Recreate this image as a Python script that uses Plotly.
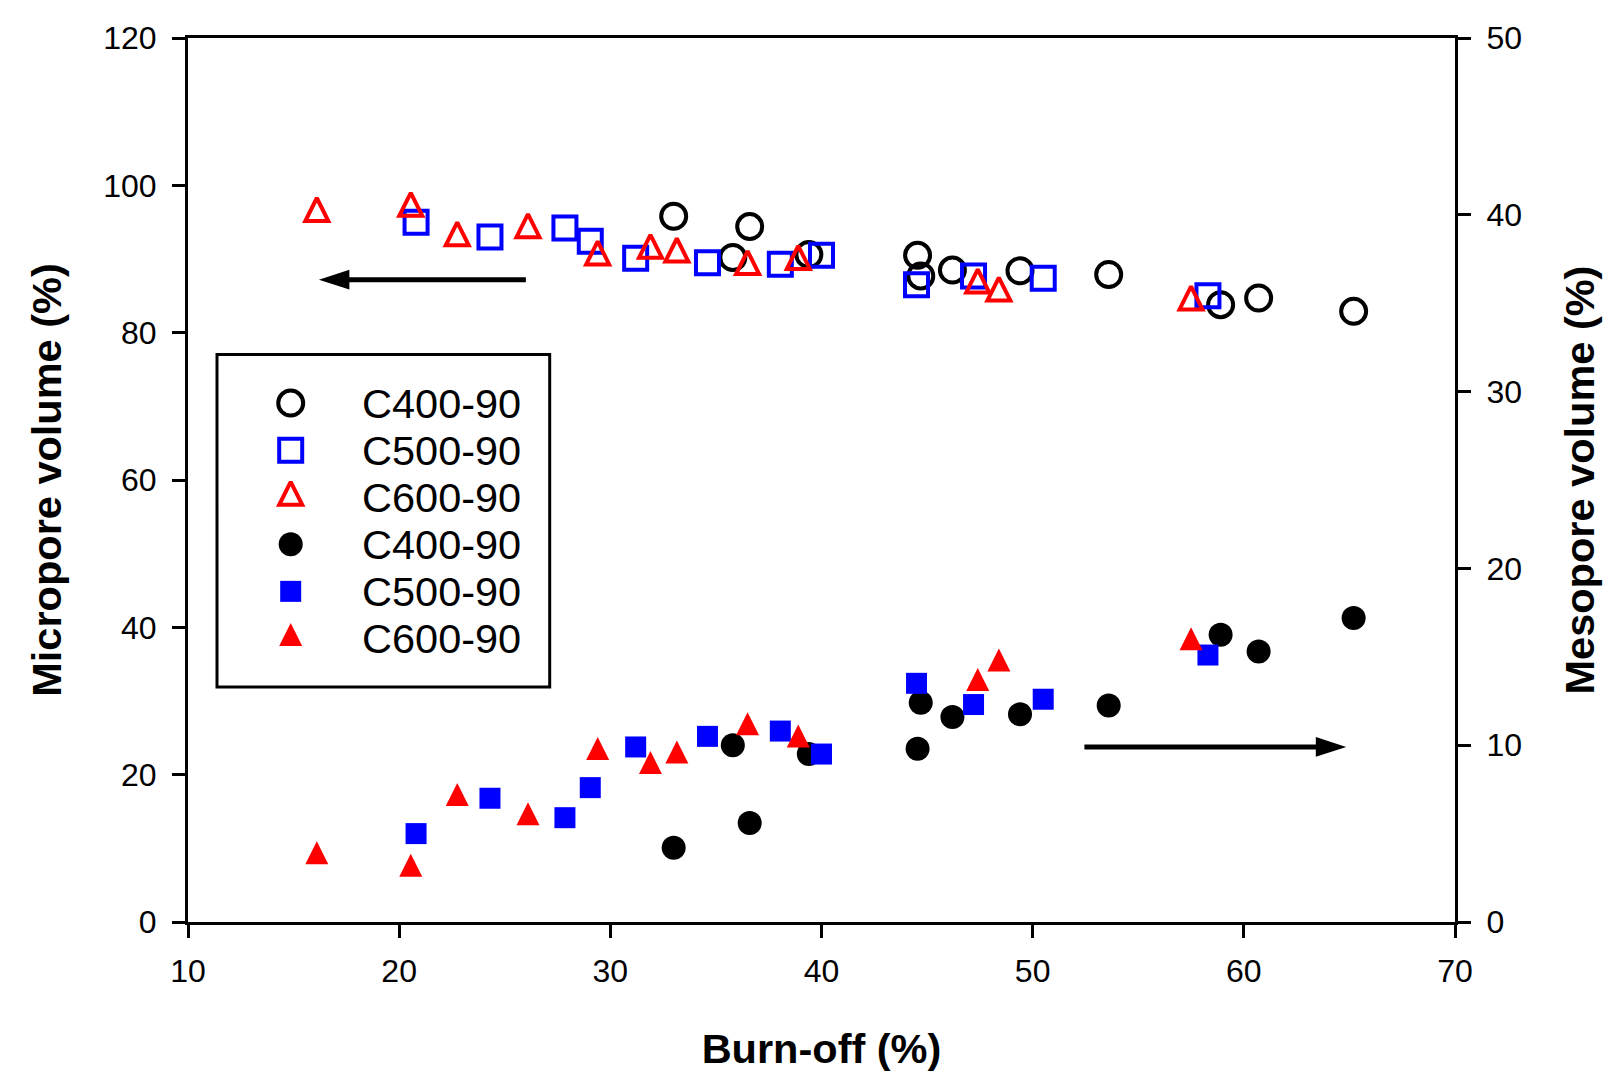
import plotly.graph_objects as go

FONT = "Arial, 'Liberation Sans', sans-serif"
NEGRO = '#000000'
AZUL = '#0000FF'
ROJO = '#FF0000'

# Datos
burnoff_c400 = [33.0, 35.8, 36.6, 39.4, 44.55, 44.7, 46.2, 49.4, 53.6, 58.9, 60.7, 65.2]
micro_c400 = [95.8, 90.2, 94.4, 90.6, 90.5, 87.7, 88.5, 88.4, 87.9, 83.8, 84.7, 82.9]
meso_c400 = [4.2, 10.0, 5.6, 9.5, 9.8, 12.4, 11.6, 11.75, 12.25, 16.25, 15.3, 17.2]

burnoff_c500 = [20.8, 24.3, 27.85, 29.05, 31.2, 34.6, 38.05, 40.0, 44.5, 47.2, 50.5, 58.3]
micro_c500 = [95.0, 93.0, 94.2, 92.4, 90.1, 89.5, 89.3, 90.5, 86.5, 87.7, 87.4, 85.0]
meso_c500 = [5.0, 7.0, 5.9, 7.6, 9.9, 10.5, 10.8, 9.5, 13.5, 12.3, 12.6, 15.1]

burnoff_c600 = [16.1, 20.55, 22.75, 26.1, 29.4, 31.9, 33.15, 36.5, 38.9, 47.4, 48.4, 57.5]
micro_c600 = [96.2, 96.9, 92.9, 94.0, 90.3, 91.2, 90.7, 89.0, 89.7, 86.5, 85.4, 84.2]
meso_c600 = [3.7, 3.0, 7.0, 5.9, 9.6, 8.8, 9.4, 11.0, 10.3, 13.5, 14.6, 15.8]

series_names = ['C400-90', 'C500-90', 'C600-90', 'C400-90', 'C500-90', 'C600-90']

# flechas: (cola, punta) en x, altura en su eje
flecha_micro_x = [26.0, 16.2]
flecha_micro_y = 87.2
flecha_meso_x = [52.45, 64.85]
flecha_meso_y = 9.9

# estilos de marcador
TRI = 23
LW = 4
estilos = [
    dict(symbol='circle-open', color=NEGRO, size=25, line=dict(width=LW, color=NEGRO)),
    dict(symbol='square-open', color=AZUL, size=23, line=dict(width=LW, color=AZUL)),
    dict(symbol='arrow-down-open', color=ROJO, size=TRI, angle=180, standoff=TRI * 2 / 3,
         line=dict(width=LW, color=ROJO)),
    dict(symbol='circle', color=NEGRO, size=24, line=dict(width=0)),
    dict(symbol='square', color=AZUL, size=21, line=dict(width=0)),
    dict(symbol='arrow-down', color=ROJO, size=TRI, angle=180, standoff=TRI * 2 / 3,
         line=dict(width=0)),
]

fig = go.Figure()

datos = [
    (burnoff_c400, micro_c400, 'y'),
    (burnoff_c500, micro_c500, 'y'),
    (burnoff_c600, micro_c600, 'y'),
    (burnoff_c400, meso_c400, 'y2'),
    (burnoff_c500, meso_c500, 'y2'),
    (burnoff_c600, meso_c600, 'y2'),
]

for (x, y, eje), estilo, nombre in zip(datos, estilos, series_names):
    fig.add_trace(go.Scatter(
        x=x, y=y, mode='markers', name=nombre,
        marker=estilo, yaxis=eje, xaxis='x', showlegend=False, cliponaxis=False
    ))

# Flechas: linea + punta
fig.add_shape(type='line', xref='x', yref='y',
              x0=flecha_micro_x[0], x1=flecha_micro_x[1] + 1.0,
              y0=flecha_micro_y, y1=flecha_micro_y,
              line=dict(color=NEGRO, width=5))
fig.add_shape(type='line', xref='x', yref='y2',
              x0=flecha_meso_x[0], x1=flecha_meso_x[1] - 1.0,
              y0=flecha_meso_y, y1=flecha_meso_y,
              line=dict(color=NEGRO, width=5))
fig.add_trace(go.Scatter(x=[flecha_micro_x[1]], y=[flecha_micro_y], mode='markers',
                         marker=dict(symbol='arrow', size=32, angle=-90, color=NEGRO, line=dict(width=0)),
                         yaxis='y', showlegend=False, hoverinfo='skip'))
fig.add_trace(go.Scatter(x=[flecha_meso_x[1]], y=[flecha_meso_y], mode='markers',
                         marker=dict(symbol='arrow', size=32, angle=90, color=NEGRO, line=dict(width=0)),
                         yaxis='y2', showlegend=False, hoverinfo='skip'))

# Leyenda dibujada en un eje auxiliar (unidades en px dentro del recuadro)
LEG_W, LEG_H = 332.7, 333.4
PAD = 10
fila0, paso = 48.7, 47.2
for i, (estilo, nombre) in enumerate(zip(estilos, series_names)):
    yy = fila0 + paso * i
    fig.add_trace(go.Scatter(x=[73.7], y=[yy], mode='markers', marker=estilo,
                             xaxis='x3', yaxis='y3', showlegend=False, hoverinfo='skip'))
    fig.add_annotation(x=143, y=yy, xref='x3', yref='y3', text=nombre, showarrow=False,
                       xanchor='left', yanchor='middle',
                       font=dict(family=FONT, size=41.5, color=NEGRO))
fig.add_shape(type='rect', xref='x3', yref='y3', x0=0, x1=LEG_W, y0=0, y1=LEG_H,
              line=dict(color=NEGRO, width=3))

eje_comun = dict(
    showline=True, linecolor=NEGRO, linewidth=3,
    ticks='outside', ticklen=13, tickwidth=3, tickcolor=NEGRO,
    showgrid=False, zeroline=False,
    tickfont=dict(family=FONT, size=32, color=NEGRO),
)
fuente_titulo = dict(family=FONT, size=41.5, color=NEGRO, weight='bold')

fig.update_layout(
    width=1622, height=1092,
    margin=dict(l=180, r=175, t=28, b=178),
    paper_bgcolor='white', plot_bgcolor='white',
    showlegend=False,
    xaxis=dict(range=[10, 70], tick0=10, dtick=10, mirror=True, ticklabelstandoff=6,
               title=dict(text='Burn-off (%)', standoff=46, font=fuente_titulo),
               **eje_comun),
    yaxis=dict(range=[0, 120], tick0=0, dtick=20, ticklabelstandoff=9,
               title=dict(text='Micropore volume (%)', standoff=29, font=fuente_titulo),
               **eje_comun),
    yaxis2=dict(range=[0, 50], tick0=0, dtick=10, side='right', overlaying='y', anchor='x',
                ticklabelstandoff=9,
                title=dict(text='Mesopore volume (%)', standoff=44, font=fuente_titulo),
                **eje_comun),
    xaxis3=dict(domain=[19 / 1267, (29 + LEG_W + PAD) / 1267], range=[-PAD, LEG_W + PAD],
                visible=False, anchor='y3', fixedrange=True),
    yaxis3=dict(domain=[1 - (317.3 + LEG_H + PAD) / 886.3, 1 - (317.3 - PAD) / 886.3],
                range=[LEG_H + PAD, -PAD], visible=False, anchor='x3', fixedrange=True),
)

fig.write_html("out.html")
